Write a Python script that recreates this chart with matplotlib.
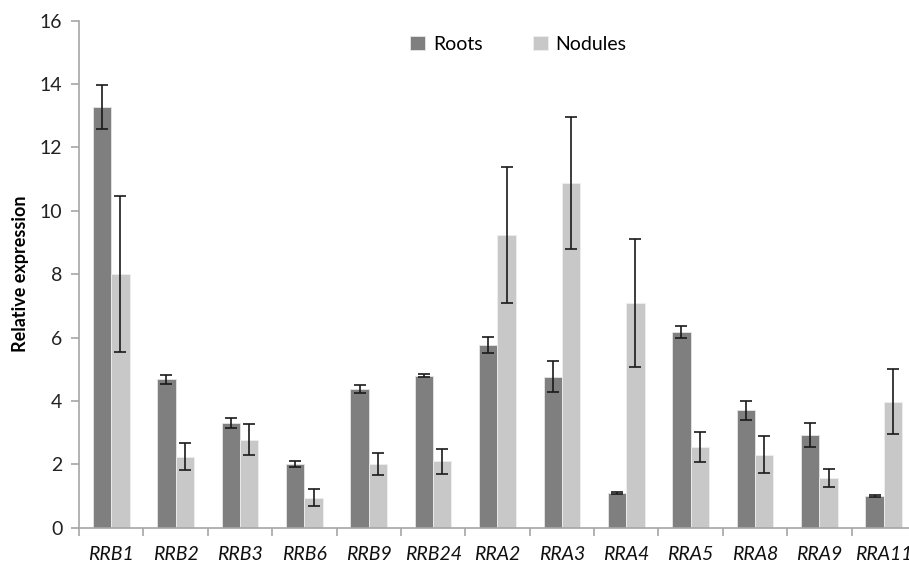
import matplotlib
matplotlib.use("Agg")
import matplotlib.pyplot as plt
import numpy as np

categories = ["RRB1", "RRB2", "RRB3", "RRB6", "RRB9", "RRB24", "RRA2", "RRA3",
              "RRA4", "RRA5", "RRA8", "RRA9", "RRA11"]
roots = [13.27, 4.68, 3.31, 2.01, 4.37, 4.80, 5.77, 4.77, 1.10, 6.18, 3.70, 2.93, 1.00]
roots_err = [0.70, 0.15, 0.15, 0.08, 0.13, 0.06, 0.25, 0.50, 0.04, 0.18, 0.30, 0.38, 0.03]
nodules = [8.01, 2.24, 2.78, 0.95, 2.00, 2.09, 9.24, 10.89, 7.10, 2.55, 2.30, 1.56, 3.98]
nodules_err = [2.47, 0.42, 0.50, 0.27, 0.35, 0.40, 2.15, 2.08, 2.02, 0.48, 0.58, 0.28, 1.02]
yticks = [0, 2, 4, 6, 8, 10, 12, 14, 16]

plt.rcParams['font.family'] = ['Lato', 'DejaVu Sans']

fig = plt.figure(figsize=(9.09, 5.66), dpi=100)
ax = fig.add_axes([0.0869, 0.0677, 0.9208, 0.8957])

x = np.arange(len(categories))
w = 0.285
ekw = dict(ecolor='#1a1a1a', elinewidth=1.2, capsize=4.5, capthick=1.2)
ax.bar(x - w/2, roots, w, yerr=roots_err, color='#7f7f7f', edgecolor='#e6e6e6',
       linewidth=0.6, label='Roots', error_kw=ekw)
ax.bar(x + w/2, nodules, w, yerr=nodules_err, color='#c8c8c8', edgecolor='#eeeeee',
       linewidth=0.6, label='Nodules', error_kw=ekw)

ax.set_xlim(-0.5, len(categories) - 0.5)
ax.set_ylim(0, 16)
ax.set_yticks(yticks)
ax.set_yticklabels([str(t) for t in yticks], fontsize=14, color='#222222')

ax.set_xticks(x)
ax.set_xticklabels(categories, fontsize=14, style='italic', color='#111111')
ax.set_xticks(np.arange(-0.5, len(categories)), minor=True)
ax.tick_params(axis='x', which='major', length=0, pad=13)
ax.tick_params(axis='x', which='minor', length=6, color='#a6a6a6', width=1.2)
ax.tick_params(axis='y', length=6, color='#a6a6a6', width=1.2, pad=6)

for s in ['top', 'right']:
    ax.spines[s].set_visible(False)
for s in ['left', 'bottom']:
    ax.spines[s].set_color('#a6a6a6')
    ax.spines[s].set_linewidth(1.2)

ax.set_ylabel('Relative expression', fontsize=13, fontweight='bold', labelpad=8)

leg = ax.legend(loc='upper center', bbox_to_anchor=(0.525, 1.005), ncol=2, frameon=False,
                fontsize=14, handlelength=0.75, handleheight=0.75, columnspacing=2.6,
                handletextpad=0.4)

fig.savefig('out.png', dpi=100)
